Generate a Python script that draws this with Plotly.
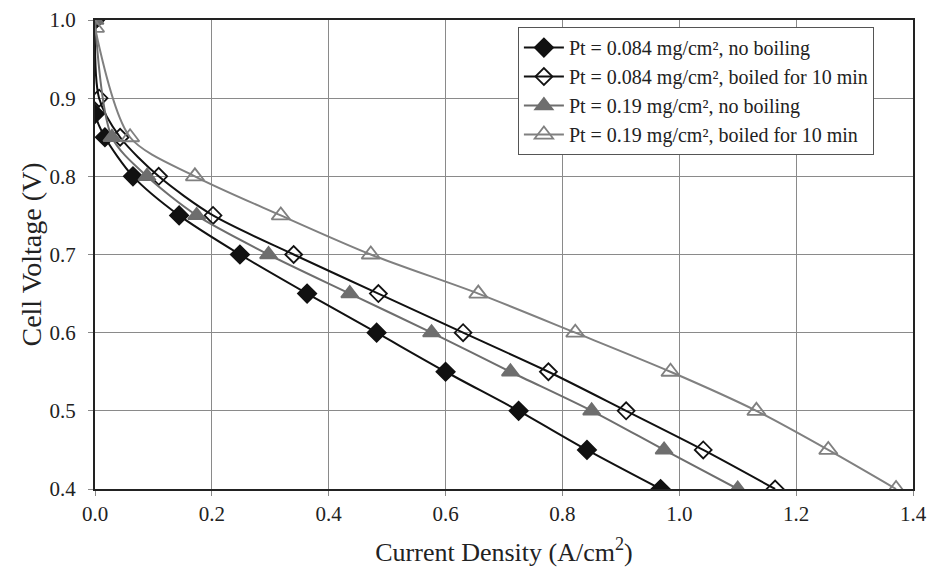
import plotly.graph_objects as go

# Series 1: Pt = 0.084 mg/cm2, no boiling
x1 = [0.0, 0.0, 0.017, 0.065, 0.144, 0.248, 0.363, 0.482, 0.600, 0.725, 0.842, 0.968]
y1 = [1.0, 0.88, 0.85, 0.80, 0.75, 0.70, 0.65, 0.60, 0.55, 0.50, 0.45, 0.40]
# Series 2: Pt = 0.084 mg/cm2, boiled for 10 min
x2 = [0.0, 0.007, 0.043, 0.109, 0.202, 0.340, 0.485, 0.630, 0.776, 0.909, 1.041, 1.164]
y2 = [1.0, 0.90, 0.85, 0.80, 0.75, 0.70, 0.65, 0.60, 0.55, 0.50, 0.45, 0.40]
# Series 3: Pt = 0.19 mg/cm2, no boiling
x3 = [0.0, 0.029, 0.089, 0.174, 0.297, 0.436, 0.576, 0.711, 0.850, 0.974, 1.100]
y3 = [1.0, 0.85, 0.80, 0.75, 0.70, 0.65, 0.60, 0.55, 0.50, 0.45, 0.40]
# Series 4: Pt = 0.19 mg/cm2, boiled for 10 min
x4 = [0.0, 0.060, 0.171, 0.318, 0.472, 0.656, 0.822, 0.985, 1.132, 1.255, 1.371]
y4 = [0.99, 0.85, 0.80, 0.75, 0.70, 0.65, 0.60, 0.55, 0.50, 0.45, 0.40]

names = [
    "Pt = 0.084 mg/cm², no boiling",
    "Pt = 0.084 mg/cm², boiled for 10 min",
    "Pt = 0.19 mg/cm², no boiling",
    "Pt = 0.19 mg/cm², boiled for 10 min",
]
x_ticks = [0.0, 0.2, 0.4, 0.6, 0.8, 1.0, 1.2, 1.4]
y_ticks = [0.4, 0.5, 0.6, 0.7, 0.8, 0.9, 1.0]

fig = go.Figure()
styles = [
    dict(lc="#111111", sym="diamond", mc="#111111", ms=14),
    dict(lc="#111111", sym="diamond-open", mc="#111111", ms=13),
    dict(lc="#6e6e6e", sym="triangle-up", mc="#6e6e6e", ms=15),
    dict(lc="#808080", sym="triangle-up-open", mc="#808080", ms=16),
]
for (xs, ys), nm, st in zip([(x1, y1), (x2, y2), (x3, y3), (x4, y4)], names, styles):
    fig.add_trace(go.Scatter(
        x=xs, y=ys, name=nm, mode="lines+markers",
        line=dict(color=st["lc"], width=2, shape="spline", smoothing=0.8),
        marker=dict(symbol=st["sym"], size=st["ms"], color=st["mc"],
                    line=dict(color=st["mc"], width=1.8)),
    ))

fig.update_layout(
    width=928, height=577,
    margin=dict(l=95, r=15, t=20, b=88),
    paper_bgcolor="white", plot_bgcolor="white",
    font=dict(family="Liberation Serif", size=21, color="#222222"),
    showlegend=True,
    legend=dict(
        x=0.517, y=0.985, xanchor="left", yanchor="top",
        bgcolor="white", bordercolor="#555555", borderwidth=1,
        font=dict(family="Liberation Serif", size=20, color="#222222"),
        tracegroupgap=0, itemwidth=40,
    ),
)
fig.update_xaxes(
    range=[0, 1.4], tickvals=x_ticks, ticktext=[f"{v:.1f}" for v in x_ticks],
    showgrid=True, gridcolor="#8a8a8a", gridwidth=1,
    showline=True, linecolor="#222222", linewidth=2, mirror=True,
    ticks="outside", ticklen=5, tickcolor="#888888",
    zeroline=False, automargin=False,
    title=dict(text="Current Density (A/cm<sup>2</sup>)", font=dict(size=26), standoff=18),
)
fig.update_yaxes(
    range=[0.4, 1.0], tickvals=y_ticks, ticktext=[f"{v:.1f}" for v in y_ticks],
    showgrid=True, gridcolor="#8a8a8a", gridwidth=1,
    showline=True, linecolor="#222222", linewidth=2, mirror=True,
    ticks="outside", ticklen=5, tickcolor="#888888", ticklabelstandoff=8,
    zeroline=False, automargin=False,
    title=dict(text="Cell Voltage (V)", font=dict(size=28), standoff=0),
)

fig.write_html("out.html", config={"displayModeBar": False})

# remove default page margin so the figure sits at the window origin
with open("out.html", "r", encoding="utf-8") as f:
    html = f.read()
html = html.replace("<head>", "<head><style>html,body{margin:0;padding:0;overflow:hidden;}</style>", 1)
with open("out.html", "w", encoding="utf-8") as f:
    f.write(html)
